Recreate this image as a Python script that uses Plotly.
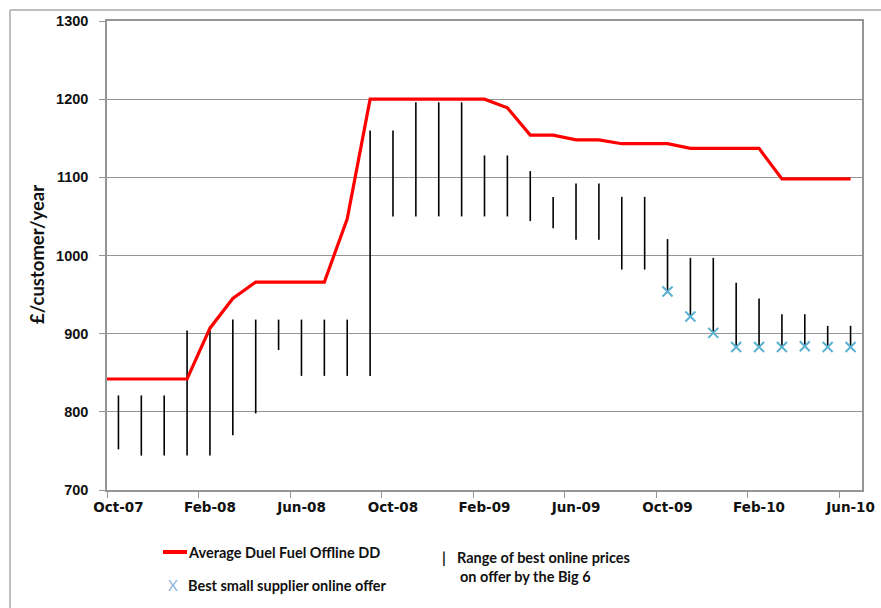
import plotly.graph_objects as go

# ---------------- data ----------------
months = ["Oct-07", "Nov-07", "Dec-07", "Jan-08", "Feb-08", "Mar-08", "Apr-08", "May-08",
          "Jun-08", "Jul-08", "Aug-08", "Sep-08", "Oct-08", "Nov-08", "Dec-08", "Jan-09",
          "Feb-09", "Mar-09", "Apr-09", "May-09", "Jun-09", "Jul-09", "Aug-09", "Sep-09",
          "Oct-09", "Nov-09", "Dec-09", "Jan-10", "Feb-10", "Mar-10", "Apr-10", "May-10",
          "Jun-10"]
tick_labels = ["Oct-07", "Feb-08", "Jun-08", "Oct-08", "Feb-09", "Jun-09", "Oct-09", "Feb-10", "Jun-10"]

avg_offline_dd = [842, 842, 842, 842, 907, 945, 966, 966, 966, 966, 1047, 1200, 1200, 1200,
                  1200, 1200, 1200, 1189, 1154, 1154, 1148, 1148, 1143, 1143, 1143, 1137,
                  1137, 1137, 1137, 1098, 1098, 1098, 1098]
big6_high = [821, 821, 821, 904, 904, 918, 918, 918, 918, 918, 918, 1160, 1160, 1196, 1196,
             1196, 1128, 1128, 1108, 1075, 1092, 1092, 1075, 1075, 1021, 997, 997, 965, 945,
             925, 925, 910, 910]
big6_low = [752, 744, 744, 744, 744, 770, 798, 879, 846, 846, 846, 846, 1050, 1050, 1050,
            1050, 1050, 1050, 1044, 1035, 1020, 1020, 982, 982, 954, 922, 901, 883, 883, 883,
            884, 883, 883]
small_supplier = [None] * 24 + [954, 922, 901, 883, 883, 883, 884, 883, 883]

# ---------------- geometry helpers ----------------
W, H = 881, 608
ML, MR, MT, MB = 107, 19, 21, 118
PW, PH = W - ML - MR, H - MT - MB


def px(xpix):
    return (xpix - ML) / PW


def py(ypix):
    return (H - MB - ypix) / PH


idx = list(range(len(months)))
x_range = [-0.5, len(months) - 0.5]
label_pos = [months.index(t) for t in tick_labels]
tick_pos = [p - 0.5 for p in label_pos]

fig = go.Figure()

# range of best online prices (vertical bars)
rx, ry = [], []
for i, lo, hi in zip(idx, big6_low, big6_high):
    rx += [i, i, None]
    ry += [lo, hi, None]
fig.add_trace(go.Scatter(x=rx, y=ry, mode="lines", line=dict(color="#000000", width=1.6),
                         showlegend=False, hoverinfo="skip"))

# red line (starts at the axis edge)
red_x = [x_range[0]] + idx[1:]
fig.add_trace(go.Scatter(x=red_x, y=avg_offline_dd, mode="lines",
                         line=dict(color="#ff0000", width=3.2), showlegend=False))

# best small supplier offers
fig.add_trace(go.Scatter(x=idx, y=small_supplier, mode="markers",
                         marker=dict(symbol="x-thin", size=10,
                                     line=dict(color="#5bb1d1", width=2)),
                         showlegend=False))

# dummy trace on overlay axis for labels
fig.add_trace(go.Scatter(x=[None], y=[None], xaxis="x2", showlegend=False))

grid = "#959595"
fig.update_layout(
    width=W, height=H,
    margin=dict(l=ML, r=MR, t=MT, b=MB, autoexpand=False),
    paper_bgcolor="white", plot_bgcolor="white",
    xaxis=dict(range=x_range, tickmode="array", tickvals=tick_pos,
               ticktext=[""] * len(tick_pos), ticks="outside", ticklen=6,
               tickcolor=grid, showline=True, linecolor=grid, linewidth=1.5,
               mirror=True, showgrid=False, zeroline=False, automargin=False),
    xaxis2=dict(range=x_range, overlaying="x", anchor="y", side="bottom",
                tickmode="array", tickvals=label_pos, ticktext=tick_labels,
                ticks="", showline=False, showgrid=False, zeroline=False,
                ticklabelstandoff=7, automargin=False,
                tickfont=dict(family="DejaVu Sans", size=13.5, color="#111111",
                              weight="bold")),
    yaxis=dict(range=[700, 1300], tickmode="linear", tick0=700, dtick=100,
               showgrid=True, gridcolor=grid, gridwidth=1.2,
               showline=True, linecolor=grid, linewidth=1.5, mirror=True,
               ticks="outside", ticklen=6, tickcolor=grid, zeroline=False,
               ticklabelstandoff=8, automargin=False,
               tickfont=dict(family="Liberation Sans", size=14.5, color="#111111",
                             weight="bold")),
    font=dict(family="Liberation Sans", color="#000000"),
)

# outer chart border (top and left edges visible)
border = "#a8a8a8"
fig.add_shape(type="line", xref="paper", yref="paper", x0=px(10), x1=px(W + 5),
              y0=py(10), y1=py(10), line=dict(color=border, width=1.5))
fig.add_shape(type="line", xref="paper", yref="paper", x0=px(10), x1=px(10),
              y0=py(10), y1=py(H + 5), line=dict(color=border, width=1.5))

# y-axis title
fig.add_annotation(text="£/customer/year", xref="paper", yref="paper",
                   x=px(37), y=py(255), textangle=-90, showarrow=False,
                   xanchor="center", yanchor="middle",
                   font=dict(family="Lato", size=18.5, color="#111111", weight="bold"))

# custom legend
lf = dict(family="Lato", size=14.5, color="#111111", weight="bold")
fig.add_shape(type="line", xref="paper", yref="paper", x0=px(163), x1=px(187),
              y0=py(552), y1=py(552), line=dict(color="#ff0000", width=4))
fig.add_annotation(text="Average Duel Fuel Offline DD", xref="paper", yref="paper",
                   x=px(186), y=py(552), xanchor="left", yanchor="middle",
                   showarrow=False, font=lf)
fig.add_annotation(text="X", xref="paper", yref="paper",
                   x=px(173), y=py(585), xanchor="center", yanchor="middle",
                   showarrow=False,
                   font=dict(family="Lato", size=15, color="#8fb6dc"))
fig.add_annotation(text="Best small supplier online offer", xref="paper", yref="paper",
                   x=px(186), y=py(585), xanchor="left", yanchor="middle",
                   showarrow=False, font=lf)
fig.add_annotation(text="|", xref="paper", yref="paper",
                   x=px(444), y=py(557), xanchor="center", yanchor="middle",
                   showarrow=False, font=lf)
fig.add_annotation(text="Range of best online prices", xref="paper", yref="paper",
                   x=px(455), y=py(557), xanchor="left", yanchor="middle",
                   showarrow=False, font=lf)
fig.add_annotation(text="on offer by the Big 6", xref="paper", yref="paper",
                   x=px(458), y=py(576), xanchor="left", yanchor="middle",
                   showarrow=False, font=lf)

fig.write_html("out.html",
               config={"displayModeBar": False},
               post_script="document.body.style.margin='0px';"
                           "document.body.style.overflow='hidden';")
